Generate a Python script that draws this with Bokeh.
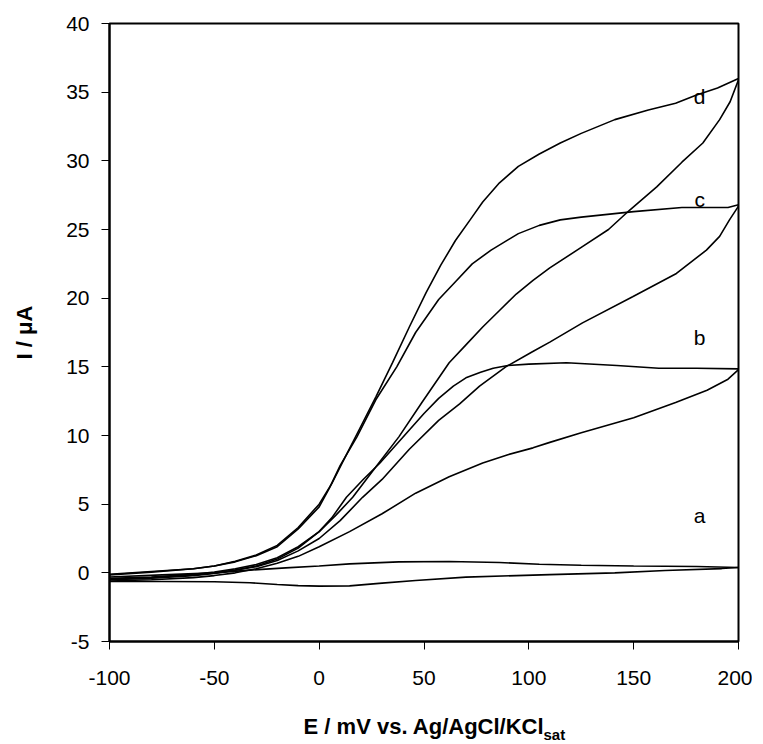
from bokeh.plotting import figure
from bokeh.models import Range1d, FixedTicker, Label, Title
from bokeh.embed import file_html
from bokeh.resources import INLINE

FONT = "Liberation Sans"

# ---- data (E in mV, I in microampere) ----
x_ticks = [-100, -50, 0, 50, 100, 150, 200]
y_ticks = [-5, 0, 5, 10, 15, 20, 25, 30, 35, 40]

a_up_E = [-100, -75, -50, -33, -16, 0, 14.5, 38, 62, 86, 105, 125, 150, 180, 200]
a_up_I = [-0.3, -0.15, 0.0, 0.2, 0.36, 0.5, 0.65, 0.8, 0.82, 0.75, 0.63, 0.55, 0.5, 0.46, 0.39]
a_lo_E = [-100, -75, -50, -33, -20, -10, 0, 14.5, 30, 46, 70, 94, 110, 141, 165, 192, 200]
a_lo_I = [-0.63, -0.63, -0.65, -0.72, -0.85, -0.93, -0.97, -0.95, -0.75, -0.56, -0.31, -0.2, -0.13, 0.0, 0.17, 0.31, 0.39]

b_up_E = [-100, -80, -60, -50, -40, -30, -20, -10, 0, 6, 13, 21, 29, 36, 43, 50, 57, 64, 70, 77, 83, 90, 100, 118, 142, 162, 180, 200]
b_up_I = [-0.5, -0.4, -0.2, -0.05, 0.2, 0.5, 1.0, 1.8, 3.0, 4.0, 5.5, 6.8, 8.0, 9.2, 10.4, 11.6, 12.7, 13.6, 14.2, 14.6, 14.9, 15.1, 15.2, 15.3, 15.1, 14.9, 14.9, 14.85]
b_lo_E = [-100, -80, -60, -50, -40, -30, -20, -10, 0, 14.5, 30, 46, 62, 78, 90, 102, 110, 125, 150, 170, 185, 195, 200]
b_lo_I = [-0.6, -0.5, -0.35, -0.2, 0.0, 0.3, 0.7, 1.2, 1.9, 3.0, 4.3, 5.8, 7.0, 8.0, 8.6, 9.1, 9.5, 10.2, 11.3, 12.4, 13.3, 14.1, 14.8]

c_up_E = [-100, -80, -60, -50, -40, -30, -20, -10, 0, 5, 10, 18, 27, 37, 46, 57, 65, 73, 82, 95, 105, 115, 125, 150, 173, 195, 200]
c_up_I = [-0.15, 0.05, 0.3, 0.5, 0.8, 1.25, 1.9, 3.2, 4.8, 6.2, 7.8, 9.9, 12.6, 15.0, 17.5, 19.9, 21.2, 22.5, 23.5, 24.7, 25.3, 25.7, 25.9, 26.3, 26.6, 26.6, 26.8]
c_lo_E = [-100, -80, -60, -50, -40, -30, -20, -10, 0, 10, 20.7, 30, 43, 57, 67, 76.5, 89, 101.7, 110, 125.6, 149.5, 170.4, 184.7, 191, 195.7, 200]
c_lo_I = [-0.45, -0.35, -0.15, 0.0, 0.2, 0.45, 0.9, 1.6, 2.5, 3.8, 5.5, 6.8, 9.0, 11.1, 12.3, 13.6, 15.0, 16.1, 16.8, 18.2, 20.1, 21.8, 23.5, 24.5, 25.7, 26.7]

d_up_E = [-100, -80, -60, -50, -40, -30, -20, -10, 0, 6, 11, 19, 27, 35, 43, 51, 58, 65, 72, 78, 86, 95, 105, 115, 125, 141, 157, 170, 180, 190, 200]
d_up_I = [-0.1, 0.1, 0.3, 0.5, 0.85, 1.3, 2.0, 3.3, 5.0, 6.5, 8.0, 10.4, 12.8, 15.3, 17.9, 20.4, 22.4, 24.2, 25.7, 27.0, 28.4, 29.6, 30.5, 31.3, 32.0, 33.0, 33.7, 34.2, 34.8, 35.3, 36.0]
d_lo_E = [-100, -80, -60, -50, -40, -30, -20, -10, 0, 8, 16, 27, 38, 49, 62, 70, 78, 86, 94, 102, 110, 125, 138, 148, 161, 173, 183, 191, 196, 200]
d_lo_I = [-0.4, -0.3, -0.1, 0.05, 0.3, 0.6, 1.1, 1.9, 3.0, 4.2, 5.5, 7.7, 9.9, 12.4, 15.3, 16.6, 17.9, 19.1, 20.3, 21.3, 22.2, 23.7, 25.0, 26.4, 28.1, 29.9, 31.3, 33.0, 34.3, 35.9]

curve_names = ["a", "b", "c", "d"]
name_E = [181.5, 181.5, 181.5, 181.5]
name_I = [4.2, 17.1, 27.2, 34.7]

x_title = "E / mV vs. Ag/AgCl/KCl"
x_title_sub = "sat"
y_title = "I / \u03bcA"

# ---- figure ----
p = figure(frame_width=629, frame_height=618,
           min_border_left=109, min_border_right=14,
           min_border_top=23, min_border_bottom=103,
           x_range=Range1d(-100, 200), y_range=Range1d(-5, 40),
           output_backend="svg", toolbar_location=None)
p.background_fill_color = "white"
p.border_fill_color = "white"
p.grid.visible = False
p.outline_line_color = "black"
p.outline_line_width = 2

for ax in (p.xaxis[0], p.yaxis[0]):
    ax.axis_line_width = 2
    ax.axis_line_color = "black"
    ax.major_tick_out = 8
    ax.major_tick_in = 0
    ax.minor_tick_out = 0
    ax.minor_tick_in = 0
    ax.major_tick_line_color = "black"
    ax.major_tick_line_width = 1
    ax.major_label_text_font = FONT
    ax.major_label_text_font_size = "21px"
    ax.major_label_text_color = "black"
    ax.axis_label_text_font = FONT
    ax.axis_label_text_font_style = "bold"
    ax.axis_label_text_font_size = "22px"
    ax.axis_label_text_color = "black"

p.xaxis.ticker = FixedTicker(ticks=x_ticks)
p.yaxis.ticker = FixedTicker(ticks=y_ticks)
p.xaxis.major_label_overrides = {t: str(t) for t in x_ticks}
p.yaxis.major_label_overrides = {t: str(t) for t in y_ticks}
p.xaxis.major_label_standoff = 21
p.yaxis.major_label_standoff = 12

p.xaxis.axis_label = x_title
p.xaxis.axis_label_standoff = 26
p.yaxis.axis_label = y_title
p.yaxis.axis_label_standoff = 26

branches = [(a_up_E, a_up_I), (a_lo_E, a_lo_I),
            (b_up_E, b_up_I), (b_lo_E, b_lo_I),
            (c_up_E, c_up_I), (c_lo_E, c_lo_I),
            (d_up_E, d_up_I), (d_lo_E, d_lo_I)]
for E, I in branches:
    p.line(E, I, line_color="black", line_width=1.6)

for n, xe, yi in zip(curve_names, name_E, name_I):
    p.add_layout(Label(x=xe, y=yi, text=n, text_align="center",
                       text_baseline="middle", text_font=FONT,
                       text_font_size="21px", text_color="black"))

t_sub = Title(text=x_title_sub, align="left", offset=434, text_font=FONT,
              text_font_style="bold", text_font_size="15px",
              text_color="black", vertical_align="top", standoff=-31)
p.add_layout(t_sub, "below")

open("out.html", "w").write(file_html(p, INLINE))
